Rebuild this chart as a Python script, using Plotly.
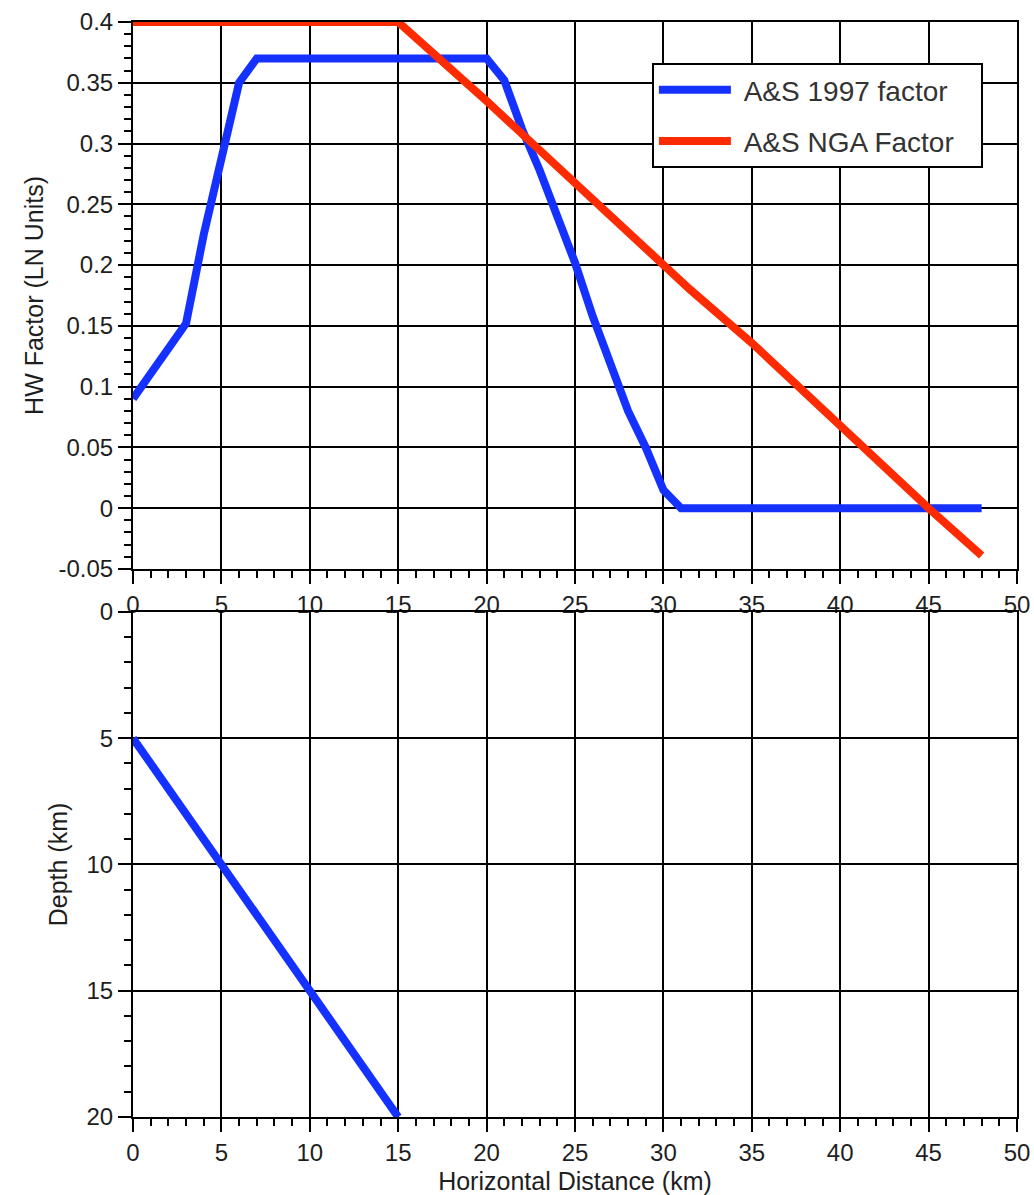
import plotly.graph_objects as go

# ---- data ----
as97_x = [0, 1, 2, 3, 4, 5, 6, 7, 20, 21, 22, 23, 24, 25, 26, 27, 28, 29, 30, 31, 48]
as97_y = [0.09, 0.111, 0.132, 0.152, 0.225, 0.29, 0.35, 0.37, 0.37, 0.352, 0.312, 0.278,
          0.24, 0.202, 0.158, 0.118, 0.08, 0.05, 0.015, 0.0, 0.0]

nga_x = [0, 15, 20, 25, 30, 31.5, 35, 40, 45, 46, 48]
nga_y = [0.4, 0.4, 0.335, 0.267, 0.2, 0.18, 0.136, 0.067, 0.0, -0.013, -0.039]

fault_x = [0, 15]
fault_depth = [5, 20]

x_ticks = [0, 5, 10, 15, 20, 25, 30, 35, 40, 45, 50]
hw_ticks = [-0.05, 0, 0.05, 0.1, 0.15, 0.2, 0.25, 0.3, 0.35, 0.4]
hw_ticktext = ["-0.05", "0", "0.05", "0.1", "0.15", "0.2", "0.25", "0.3", "0.35", "0.4"]
depth_ticks = [0, 5, 10, 15, 20]

BLUE = "#1531ff"
RED = "#ff2b00"
FONT = "Liberation Sans, Arial, Helvetica, sans-serif"
TXT = "#1e1e1e"
PAD = "\u00a0\u00a0\u2009"

fig = go.Figure()
fig.add_trace(go.Scatter(x=as97_x, y=as97_y, mode="lines", name="\u00a0A&S 1997 factor" + PAD,
                         line=dict(color=BLUE, width=8), legendgroup="a",
                         xaxis="x", yaxis="y", cliponaxis=False))
fig.add_trace(go.Scatter(x=nga_x, y=nga_y, mode="lines", name="\u00a0A&S NGA Factor" + PAD,
                         line=dict(color=RED, width=8), legendgroup="b",
                         xaxis="x", yaxis="y", cliponaxis=False))
fig.add_trace(go.Scatter(x=fault_x, y=fault_depth, mode="lines", showlegend=False,
                         line=dict(color=BLUE, width=8),
                         xaxis="x2", yaxis="y2", cliponaxis=False))

axis_common = dict(
    showline=True, linecolor="black", linewidth=2, mirror=True,
    showgrid=True, gridcolor="black", gridwidth=2,
    ticks="outside", ticklen=13, tickwidth=2, tickcolor="black",
    zeroline=False, automargin=False, ticklabeloverflow="allow",
    tickfont=dict(family=FONT, size=24, color=TXT),
)
minor_common = dict(ticks="outside", ticklen=7, tickwidth=1.5, tickcolor="black", showgrid=False)

fig.update_layout(
    width=1034, height=1195,
    margin=dict(l=133, r=17, t=22, b=78, autoexpand=False),
    paper_bgcolor="white", plot_bgcolor="white",
    font=dict(family=FONT, color=TXT),
    xaxis=dict(domain=[0, 1], anchor="y", range=[0, 50], tickmode="array", tickvals=x_ticks,
               minor=dict(tick0=0, dtick=1, **minor_common),
               **axis_common),
    yaxis=dict(domain=[0.5005, 1], anchor="x", range=[-0.05, 0.4], tickmode="array",
               tickvals=hw_ticks, ticktext=hw_ticktext,
               minor=dict(tick0=0, dtick=0.01, **minor_common),
               title=dict(text="HW Factor (LN Units)", standoff=8,
                          font=dict(family=FONT, size=25, color=TXT)),
               **axis_common),
    xaxis2=dict(domain=[0, 1], anchor="y2", range=[0, 50], tickmode="array", tickvals=x_ticks,
                minor=dict(tick0=0, dtick=1, **minor_common),
                title=dict(text="Horizontal Distance (km)", standoff=8,
                           font=dict(family=FONT, size=25, color=TXT)),
                **axis_common),
    yaxis2=dict(domain=[0, 0.4612], anchor="x2", range=[20, 0], tickmode="array",
                tickvals=depth_ticks,
                minor=dict(tick0=0, dtick=1, **minor_common),
                title=dict(text="Depth (km)", standoff=12,
                           font=dict(family=FONT, size=25, color=TXT)),
                **axis_common),
    legend=dict(x=0.587, y=0.9626, xanchor="left", yanchor="top",
                bgcolor="white", bordercolor="black", borderwidth=2,
                font=dict(family=FONT, size=28, color="#333"),
                traceorder="grouped", tracegroupgap=12, itemwidth=72),
    showlegend=True,
)

# remove the default 8px page margin so the figure fills the window exactly
fig.write_html("out.html", config={"displayModeBar": False},
               post_script="document.body.style.margin='0';")
